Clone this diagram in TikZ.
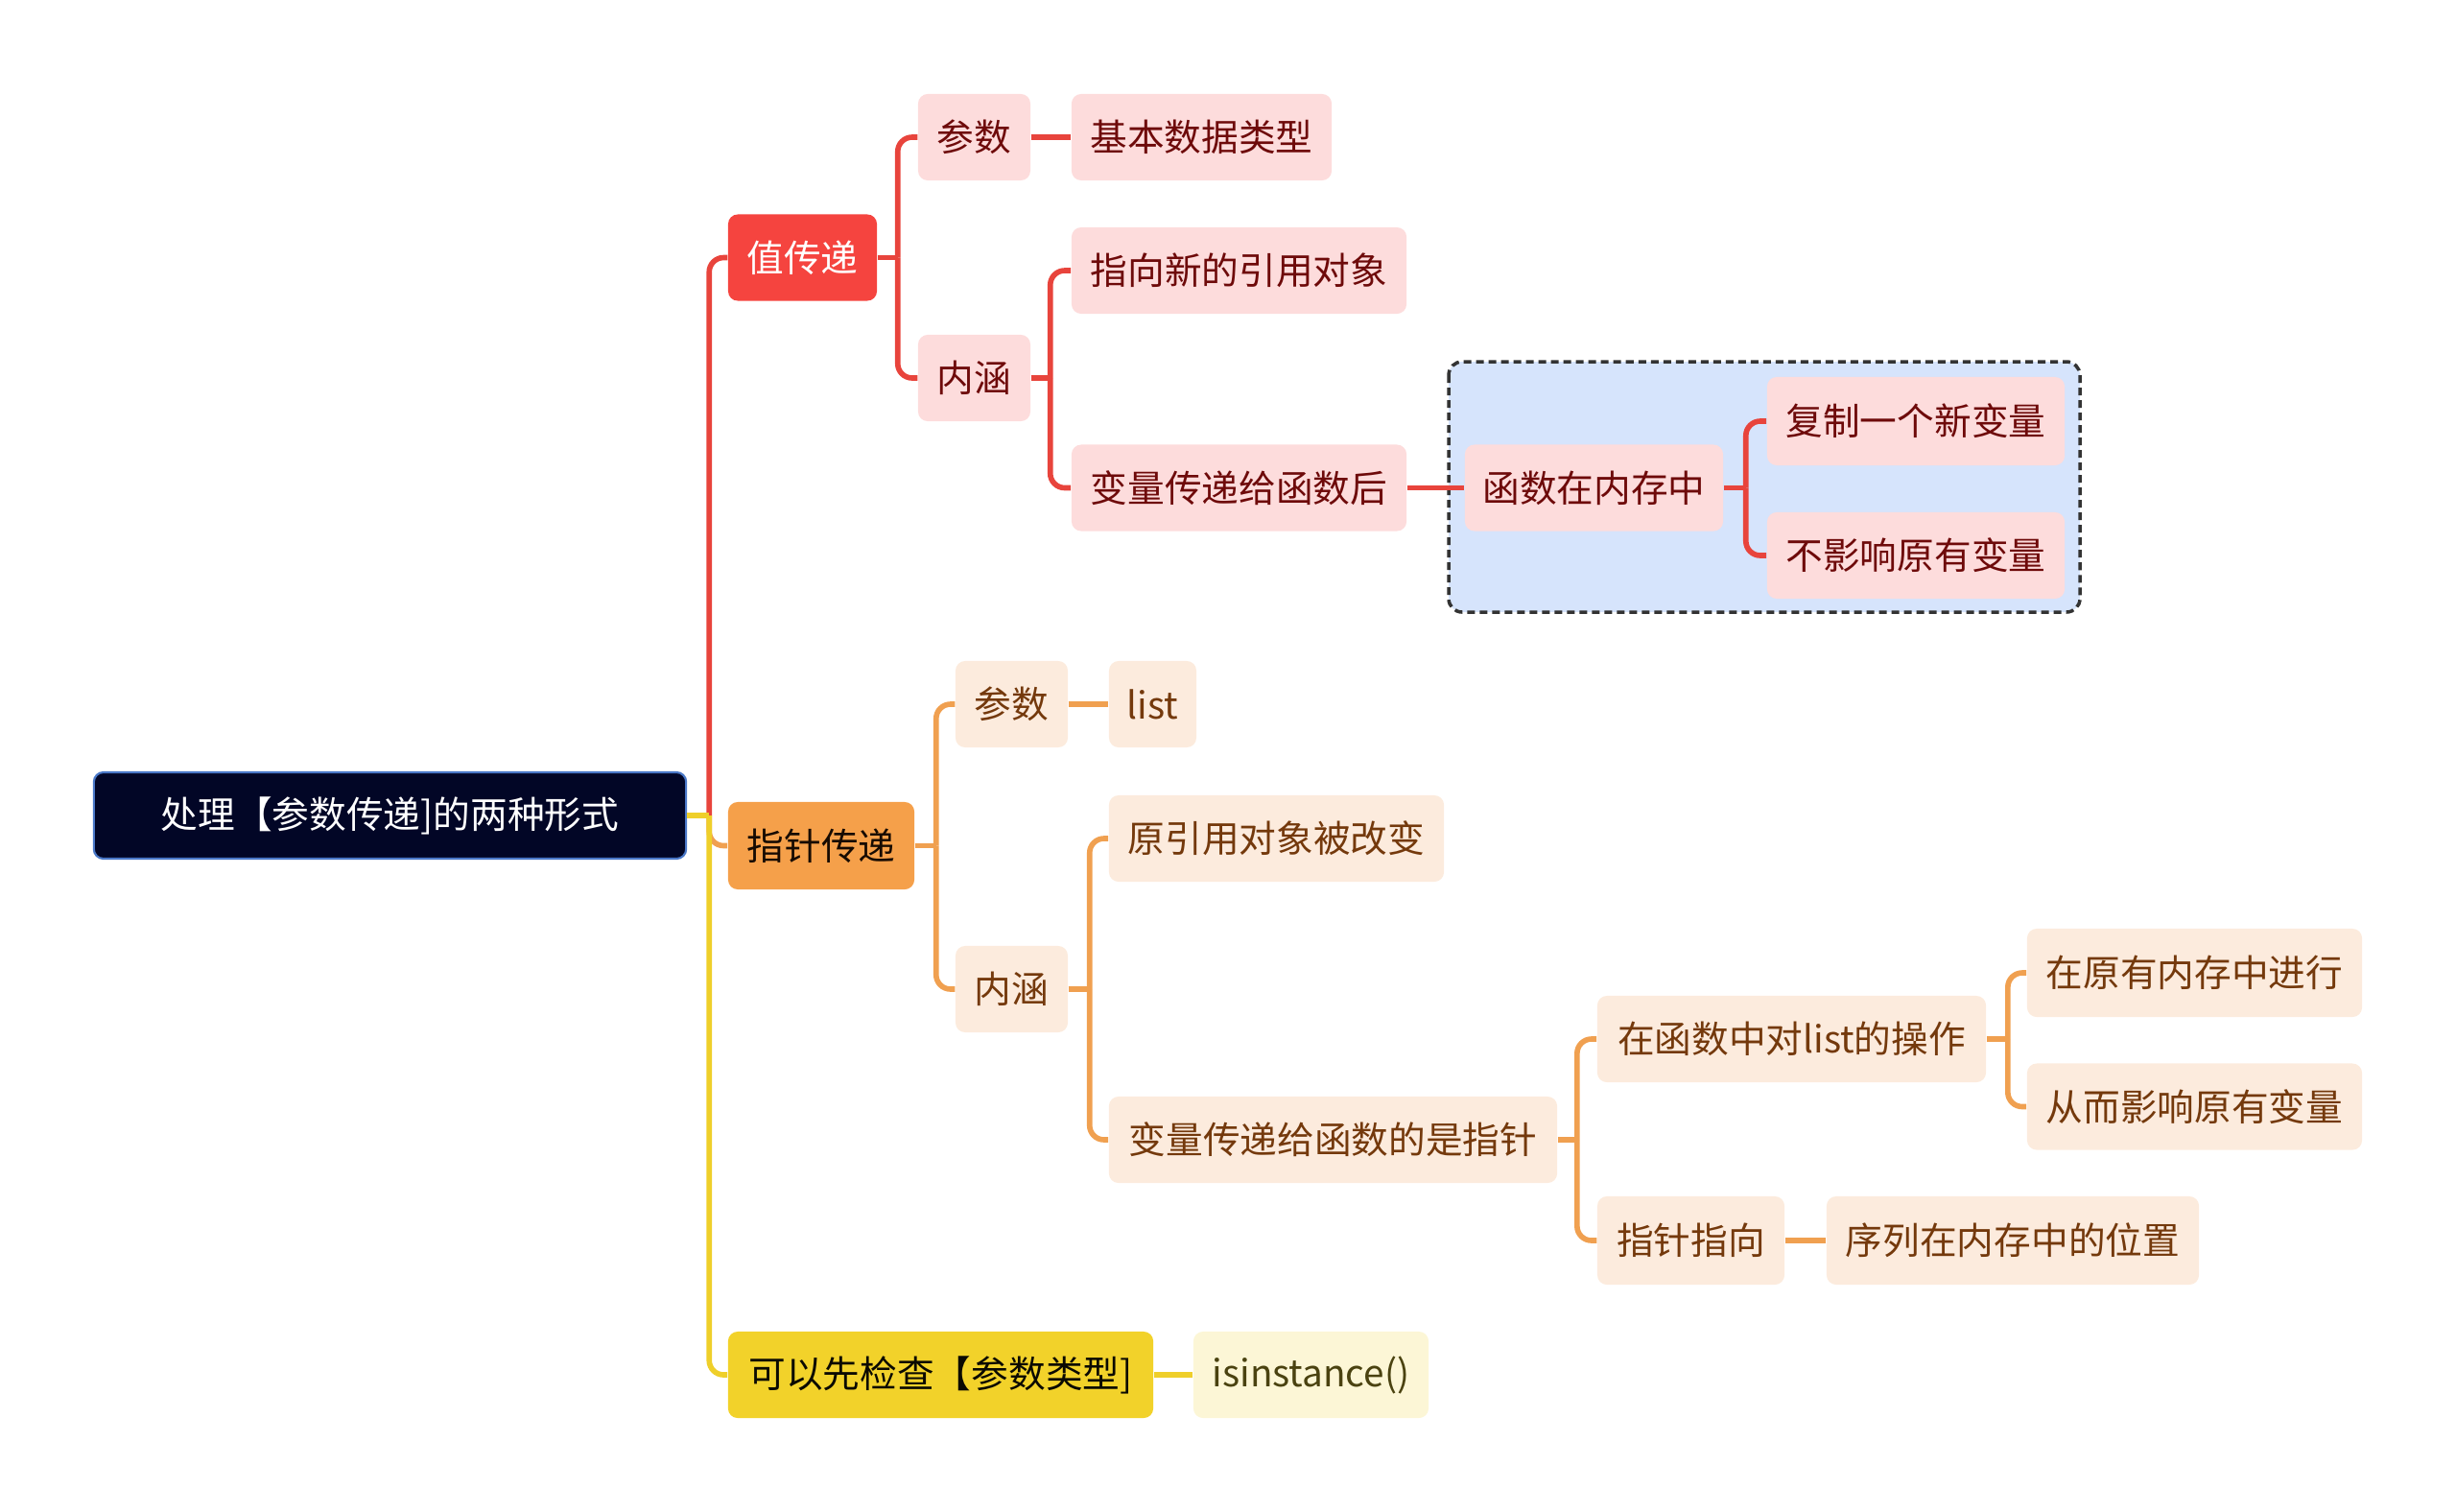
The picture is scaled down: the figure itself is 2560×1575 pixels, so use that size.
\documentclass[tikz,border=0pt]{standalone}
\usepackage{fontspec}
\setmainfont{Noto Sans CJK SC}
\definecolor{rootfill}{HTML}{020626}
\definecolor{rootdraw}{HTML}{4A78C8}
\definecolor{redmain}{HTML}{F5443F}
\definecolor{redline}{HTML}{E8443C}
\definecolor{redlight}{HTML}{FDDCDC}
\definecolor{redtext}{HTML}{6E0A0A}
\definecolor{orgmain}{HTML}{F5A04A}
\definecolor{orgline}{HTML}{F0A050}
\definecolor{orglight}{HTML}{FCEBDD}
\definecolor{orgtext}{HTML}{74390C}
\definecolor{yelmain}{HTML}{F2D22A}
\definecolor{yelline}{HTML}{EFCF2A}
\definecolor{yellight}{HTML}{FCF6D6}
\definecolor{yeltext}{HTML}{4A4210}
\definecolor{boxfill}{HTML}{D6E4FC}
\tikzset{
  base/.style={rounded corners=0.1cm, inner sep=0pt, minimum height=0.9cm, font=\fontsize{11pt}{13pt}\selectfont},
  rootbox/.style={base, fill=rootfill, draw=rootdraw, line width=0.6pt, text=white},
  redtop/.style={base, fill=redmain, text=white},
  redsub/.style={base, fill=redlight, text=redtext},
  orgtop/.style={base, fill=orgmain, text=black!80!orgtext},
  orgsub/.style={base, fill=orglight, text=orgtext},
  yeltop/.style={base, fill=yelmain, text=black!85!yeltext},
  yelsub/.style={base, fill=yellight, text=yeltext},
  rl/.style={draw=redline, line width=1.6pt, rounded corners=0.15cm},
  ol/.style={draw=orgline, line width=1.6pt, rounded corners=0.15cm},
  yl/.style={draw=yelline, line width=1.6pt, rounded corners=0.15cm},
}
\begin{document}
\begin{tikzpicture}[x=0.01cm, y=-0.01cm]
\useasboundingbox (0,0) rectangle (2560,1575);
% dashed group box
\draw[fill=boxfill, draw=black!80, line width=1pt, dash pattern=on 0.08cm off 0.05cm, rounded corners=0.14cm] (1510,377) rectangle (2168,638);

% nodes
\node[rootbox, minimum width=6.17cm] (root) at (406.5,850) {处理【参数传递]的两种形式};

\node[redtop, minimum width=1.55cm] (zhi) at (836.5,268.5) {值传递};
\node[redsub, minimum width=1.17cm] (csA) at (1015.5,143) {参数};
\node[redsub, minimum width=2.71cm] (jiben) at (1252.5,143) {基本数据类型};
\node[redsub, minimum width=1.17cm] (nhA) at (1015.5,394) {内涵};
\node[redsub, minimum width=3.49cm] (zxx) at (1291.5,282) {指向新的引用对象};
\node[redsub, minimum width=3.49cm] (blA) at (1291.5,508.5) {变量传递给函数后};
\node[redsub, minimum width=2.69cm] (hs) at (1661.5,508.5) {函数在内存中};
\node[redsub, minimum width=3.10cm, minimum height=0.92cm] (fz) at (1997,439) {复制一个新变量};
\node[redsub, minimum width=3.10cm] (byx) at (1997,579) {不影响原有变量};

\node[orgtop, minimum width=1.94cm, minimum height=0.91cm] (zhen) at (856,881.5) {指针传递};
\node[orgsub, minimum width=1.17cm] (csB) at (1054.5,734) {参数};
\node[orgsub, minimum width=0.91cm] (lst) at (1201.5,734) {list};
\node[orgsub, minimum width=1.17cm] (nhB) at (1054.5,1031) {内涵};
\node[orgsub, minimum width=3.49cm] (yy) at (1330.5,874) {原引用对象被改变};
\node[orgsub, minimum width=4.67cm] (blB) at (1389.5,1188) {变量传递给函数的是指针};
\node[orgsub, minimum width=4.05cm] (zh) at (1867.5,1083) {在函数中对list的操作};
\node[orgsub, minimum width=3.49cm, minimum height=0.92cm] (zy) at (2287.5,1014) {在原有内存中进行};
\node[orgsub, minimum width=3.49cm] (cr) at (2287.5,1153.5) {从而影响原有变量};
\node[orgsub, minimum width=1.95cm, minimum height=0.92cm] (zzzx) at (1762.5,1293) {指针指向};
\node[orgsub, minimum width=3.88cm, minimum height=0.92cm] (xl) at (2098,1293) {序列在内存中的位置};

\node[yeltop, minimum width=4.43cm] (ke) at (980.5,1433) {可以先检查【参数类型]};
\node[yelsub, minimum width=2.45cm] (isin) at (1366.5,1433) {isinstance()};

% connectors: red branch
\draw[rl] (root.east) ++(23,0) |- (zhi.west);
\draw[rl] (zhi.east) -- ++(21,0);
\draw[rl] (zhi.east) ++(21,0) |- (csA.west);
\draw[rl] (zhi.east) ++(21,0) |- (nhA.west);
\draw[rl] (csA.east) -- (jiben.west);
\draw[rl] (nhA.east) -- ++(20,0);
\draw[rl] (nhA.east) ++(20,0) |- (zxx.west);
\draw[rl] (nhA.east) ++(20,0) |- (blA.west);
\draw[rl] (blA.east) -- (hs.west);
\draw[rl] (hs.east) -- ++(23,0);
\draw[rl] (hs.east) ++(23,0) |- (fz.west);
\draw[rl] (hs.east) ++(23,0) |- (byx.west);

% orange branch
\draw[ol] (root.east) ++(23,0) |- (zhen.west);
\draw[ol] (zhen.east) -- ++(22,0);
\draw[ol] (zhen.east) ++(22,0) |- (csB.west);
\draw[ol] (zhen.east) ++(22,0) |- (nhB.west);
\draw[ol] (csB.east) -- (lst.west);
\draw[ol] (nhB.east) -- ++(22,0);
\draw[ol] (nhB.east) ++(22,0) |- (yy.west);
\draw[ol] (nhB.east) ++(22,0) |- (blB.west);
\draw[ol] (blB.east) -- ++(20,0);
\draw[ol] (blB.east) ++(20,0) |- (zh.west);
\draw[ol] (blB.east) ++(20,0) |- (zzzx.west);
\draw[ol] (zh.east) -- ++(22,0);
\draw[ol] (zh.east) ++(22,0) |- (zy.west);
\draw[ol] (zh.east) ++(22,0) |- (cr.west);
\draw[ol] (zzzx.east) -- (xl.west);

% yellow branch
\draw[yl] (root.east) -- ++(23,0);
\draw[yl] (root.east) ++(23,0) |- (ke.west);
\draw[yl] (ke.east) -- (isin.west);
\end{tikzpicture}
\end{document}
